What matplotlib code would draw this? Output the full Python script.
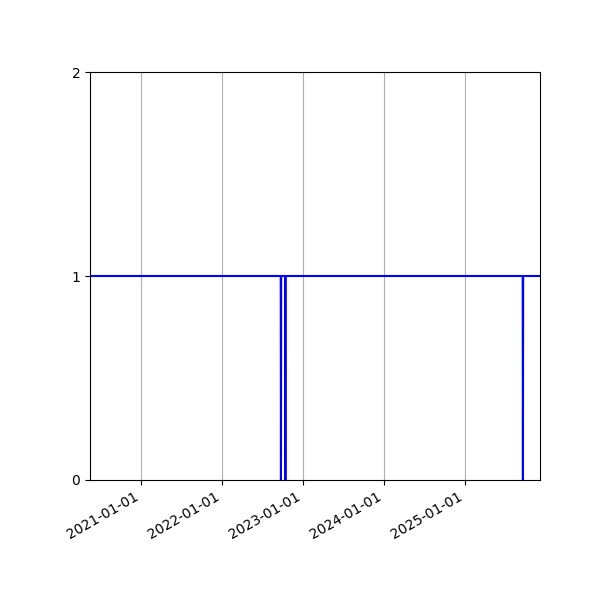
import matplotlib
matplotlib.use("Agg")
import matplotlib.pyplot as plt
import matplotlib.dates as mdates
import numpy as np

# breakpoints of the status series (1 = up, 0 = down)
dates = ["2020-05-16",
         "2022-09-23", "2022-09-24", "2022-09-25",
         "2022-10-13", "2022-10-14", "2022-10-15",
         "2025-09-18", "2025-09-19", "2025-09-20",
         "2025-12-05"]
values = [1, 1, 0, 1, 1, 0, 1, 1, 0, 1, 1]
y_ticks = [0, 1, 2]

x = np.array(dates, dtype="datetime64[D]")

fig, ax = plt.subplots(figsize=(6, 6), dpi=100)
fig.subplots_adjust(left=0.15, right=0.9, top=0.88, bottom=0.2)
ax.plot(x, values, color="blue", linewidth=1.5)
ax.set_xlim(x[0], x[-1])
ax.set_ylim(0, 2)
ax.set_yticks(y_ticks)
ax.xaxis.set_major_locator(mdates.YearLocator())
ax.xaxis.set_major_formatter(mdates.DateFormatter("%Y-%m-%d"))
ax.grid(True, axis="x")
for lbl in ax.get_xticklabels():
    lbl.set_rotation(30)
    lbl.set_ha("right")
fig.savefig("out.png", dpi=100)
